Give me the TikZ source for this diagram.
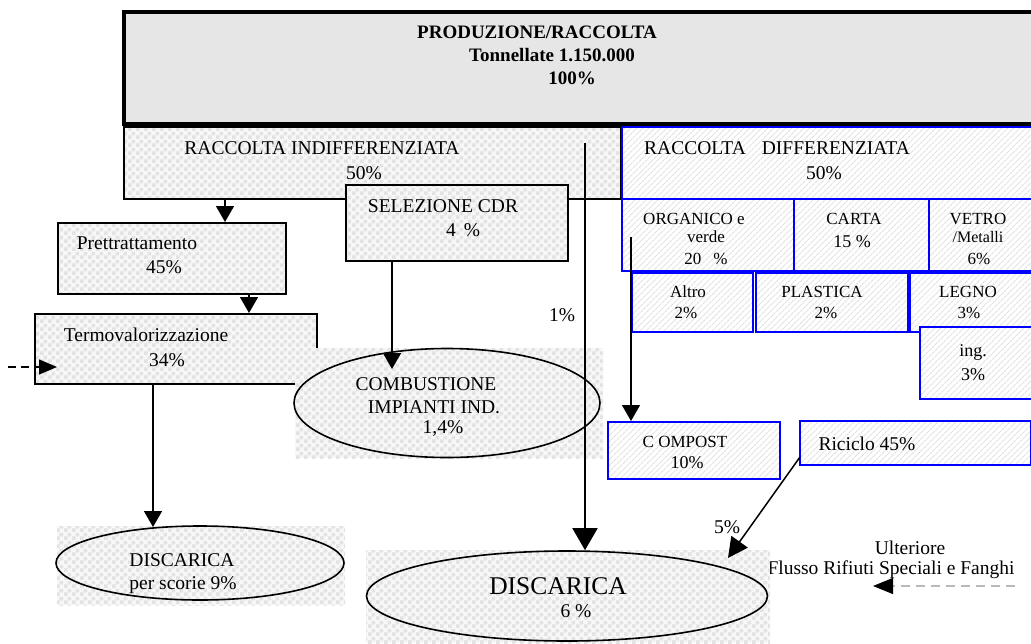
\documentclass[tikz,border=0pt]{standalone}
\usepackage{fontspec}
\setmainfont{Liberation Serif}
\usetikzlibrary{arrows.meta,shapes.geometric,patterns.meta}
\definecolor{topgray}{HTML}{E6E6E6}
\definecolor{dotbase}{HTML}{F7F7F7}
\definecolor{dotsq}{HTML}{E3E3E3}
\definecolor{hatchln}{HTML}{E2E2E2}

% small square texture used for the grey panels
\pgfdeclarepattern{
  name=checker, type=uncolored,
  bottom left={\pgfpoint{0pt}{0pt}}, top right={\pgfpoint{8pt}{8pt}},
  tile size={\pgfpoint{8pt}{8pt}},
  code={
    \pgfpathrectangle{\pgfpoint{0pt}{0pt}}{\pgfpoint{4pt}{4pt}}
    \pgfpathrectangle{\pgfpoint{4pt}{4pt}}{\pgfpoint{4pt}{4pt}}
    \pgfusepath{fill}
  }
}

\tikzset{
  box/.style={rectangle, anchor=north west, inner sep=0pt},
  dotfill/.style={preaction={fill=dotbase}, preaction={pattern=checker, pattern color=dotsq}},
  hatchfill/.style={preaction={fill=white}, preaction={pattern={Lines[angle=45,distance=4pt,line width=1.2pt]}, pattern color=hatchln}},
  blkbox/.style={box, draw=black, line width=1.6pt, dotfill},
  bluebox/.style={box, draw=blue, line width=1.8pt, hatchfill},
  bgbox/.style={box, dotfill},
  oval/.style={ellipse, draw=black, line width=1.6pt, inner sep=0pt},
  txt/.style={font=\fontsize{19.5}{23}\selectfont, inner sep=0pt, anchor=base},
  btxt/.style={font=\bfseries\fontsize{19}{23}\selectfont, inner sep=0pt, anchor=base},
  stxt/.style={font=\fontsize{17}{20}\selectfont, inner sep=0pt, anchor=base},
  mtxt/.style={font=\fontsize{18}{21}\selectfont, inner sep=0pt, anchor=base},
  ltxt/.style={font=\fontsize{25.5}{30}\selectfont, inner sep=0pt, anchor=base},
  arr/.style={line width=1.5pt, -{Triangle[length=16pt,width=18pt]}},
  bigarr/.style={line width=1.8pt, -{Triangle[length=22pt,width=25pt]}},
}
% rectangle node by top-left corner, width and height
\newcommand\rbox[6]{\node[#2, minimum width=#5pt, minimum height=#6pt] (#1) at (#3,#4) {};}

\begin{document}
\begin{tikzpicture}[x=1pt,y=-1pt]
\useasboundingbox (0,0) rectangle (1031,643);
\clip (0,0) rectangle (1031,643);

% total production
\rbox{prod}{box, draw=black, line width=3.5pt, fill=topgray}{122}{10}{930}{112}
\node[btxt] (tprod1) at (537,38) {PRODUZIONE/RACCOLTA};
\node[btxt] (tprod2) at (552,61) {Tonnellate 1.150.000};
\node[btxt] (tprod3) at (572,84) {100\%};

% undifferentiated / differentiated collection
\rbox{indiff}{blkbox}{123}{126}{497}{72}
\rbox{diff}{bluebox}{621}{126}{430}{72}
\node[txt] (tind1) at (322,154) {RACCOLTA INDIFFERENZIATA};
\node[txt] (tind2) at (364,179) {50\%};
\node[txt] (tdif1) at (777,154) {RACCOLTA\hspace{16pt}DIFFERENZIATA};
\node[txt] (tdif2) at (824,179) {50\%};

% undifferentiated branch
\rbox{selez}{blkbox}{345}{184}{222}{76}
\node[txt] (tsel1) at (443,212) {SELEZIONE CDR};
\node[txt] (tsel2) at (463,236) {4\hspace{8pt}\%};

\rbox{prettr}{blkbox}{57}{222}{228}{71}
\node[txt] (tpre1) at (137,249) {Prettrattamento};
\node[txt] (tpre2) at (164,273) {45\%};

\rbox{termo}{blkbox}{34}{313}{282}{70}
\node[txt] (tter1) at (146,341) {Termovalorizzazione};
\node[txt] (tter2) at (167,366) {34\%};

\coordinate (xa) at (225,0);
\coordinate (xb) at (249,0);
\draw[arr] (indiff.south -| xa) -- (prettr.north -| xa);
\draw[arr] (prettr.south -| xb) -- (termo.north -| xb);

% incoming flow on the left
\coordinate (lin) at (8,367);
\coordinate (lintip) at (57,367);
\draw[line width=1.5pt, dash pattern=on 8pt off 5pt, -{Triangle[length=18pt,width=15pt]}] (lin) -- (lintip);

% industrial combustion
\rbox{combbg}{bgbox}{295}{348}{308}{110}
\node[oval, minimum width=306pt, minimum height=109pt] (comb) at (447,403) {};
\node[txt] (tcom1) at (426,390) {COMBUSTIONE};
\node[txt] (tcom2) at (434,413) {IMPIANTI IND.};
\node[txt] (tcom3) at (443,433) {1,4\%};
\coordinate (xc) at (392,0);
\coordinate (ctip) at (392,369);
\draw[arr] (selez.south -| xc) -- (ctip);

% differentiated fractions
\rbox{organico}{bluebox}{621}{198}{172}{72}
\rbox{carta}{bluebox}{793}{198}{135}{72}
\rbox{vetro}{bluebox}{928}{198}{120}{72}
\node[stxt] (torg1) at (694,224) {ORGANICO e};
\node[stxt] (torg2) at (706,242) {verde};
\node[stxt] (torg3) at (706,264) {20\hspace{12pt}\%};
\node[stxt] (tcar1) at (854,224) {CARTA};
\node[mtxt] (tcar2) at (852,247) {15 \%};
\node[stxt] (tvet1) at (978,224) {VETRO};
\node[font=\fontsize{16}{19}\selectfont, inner sep=0pt, anchor=base] (tvet2) at (978,242) {/Metalli};
\node[stxt] (tvet3) at (979,264) {6\%};

\rbox{altro}{bluebox}{631}{272}{121}{59}
\rbox{plastica}{bluebox}{755}{272}{152}{59}
\rbox{legno}{bluebox}{909}{272}{140}{59}
\rbox{ing}{bluebox}{919}{326}{130}{72}
\node[stxt] (talt1) at (688,297) {Altro};
\node[stxt] (talt2) at (686,318) {2\%};
\node[stxt] (tpla1) at (822,297) {PLASTICA};
\node[stxt] (tpla2) at (826,318) {2\%};
\node[stxt] (tleg1) at (968,297) {LEGNO};
\node[stxt] (tleg2) at (969,318) {3\%};
\node[mtxt] (ting1) at (973,356) {ing.};
\node[mtxt] (ting2) at (973,380) {3\%};

\rbox{compost}{bluebox}{607}{421}{172}{57}
\node[stxt] (tcmp1) at (685,447) {C OMPOST};
\node[mtxt] (tcmp2) at (687,468) {10\%};
\rbox{riciclo}{bluebox}{799}{420}{231}{44}
\node[txt] (tric) at (867,450) {Riciclo 45\%};

\coordinate (xo) at (631,0);
\coordinate (org) at (631,237);
\draw[arr] (org) -- (compost.north -| xo);

% landfill for slag
\rbox{scoriebg}{bgbox}{57}{526}{288}{79}
\node[oval, minimum width=288pt, minimum height=74pt] (scorie) at (200,563) {};
\node[txt] (tsco1) at (182,566) {DISCARICA};
\node[txt] (tsco2) at (183,589) {per scorie 9\%};
\coordinate (xs) at (153,0);
\coordinate (stip) at (153,527);
\draw[arr] (termo.south -| xs) -- (stip);

% further special waste flow
\node[txt] (tult1) at (910,554) {Ulteriore};
\node[txt] (tult2) at (891,574) {Flusso Rifiuti Speciali e Fanghi};
\coordinate (fin) at (1015,586);
\coordinate (fintip) at (873,586);
\draw[gray!55, line width=1.2pt, dash pattern=on 9pt off 6pt, -{Triangle[length=20pt,width=16pt,color=black,fill=black]}] (fin) -- (fintip);

% main landfill
\rbox{discbg}{bgbox}{366}{550}{404}{93}
\node[oval, minimum width=401pt, minimum height=90pt] (disc) at (567,596) {};
\node[ltxt] (tdis1) at (558,594) {DISCARICA};
\node[txt] (tdis2) at (576,617) {6 \%};

% direct flow to landfill
\coordinate (d1) at (585,143);
\coordinate (xd) at (585,0);
\draw[bigarr] (d1) -- (disc.north -| xd);
\node[txt] (t1p) at (562,321) {1\%};

% recycling rejects to landfill
\coordinate (r1) at (800,457);
\coordinate (rtip) at (728,558);
\draw[line width=1.5pt, -{Triangle[length=20pt,width=20pt]}] (r1) -- (rtip);
\node[txt] (t5p) at (727,533) {5\%};
\end{tikzpicture}
\end{document}
